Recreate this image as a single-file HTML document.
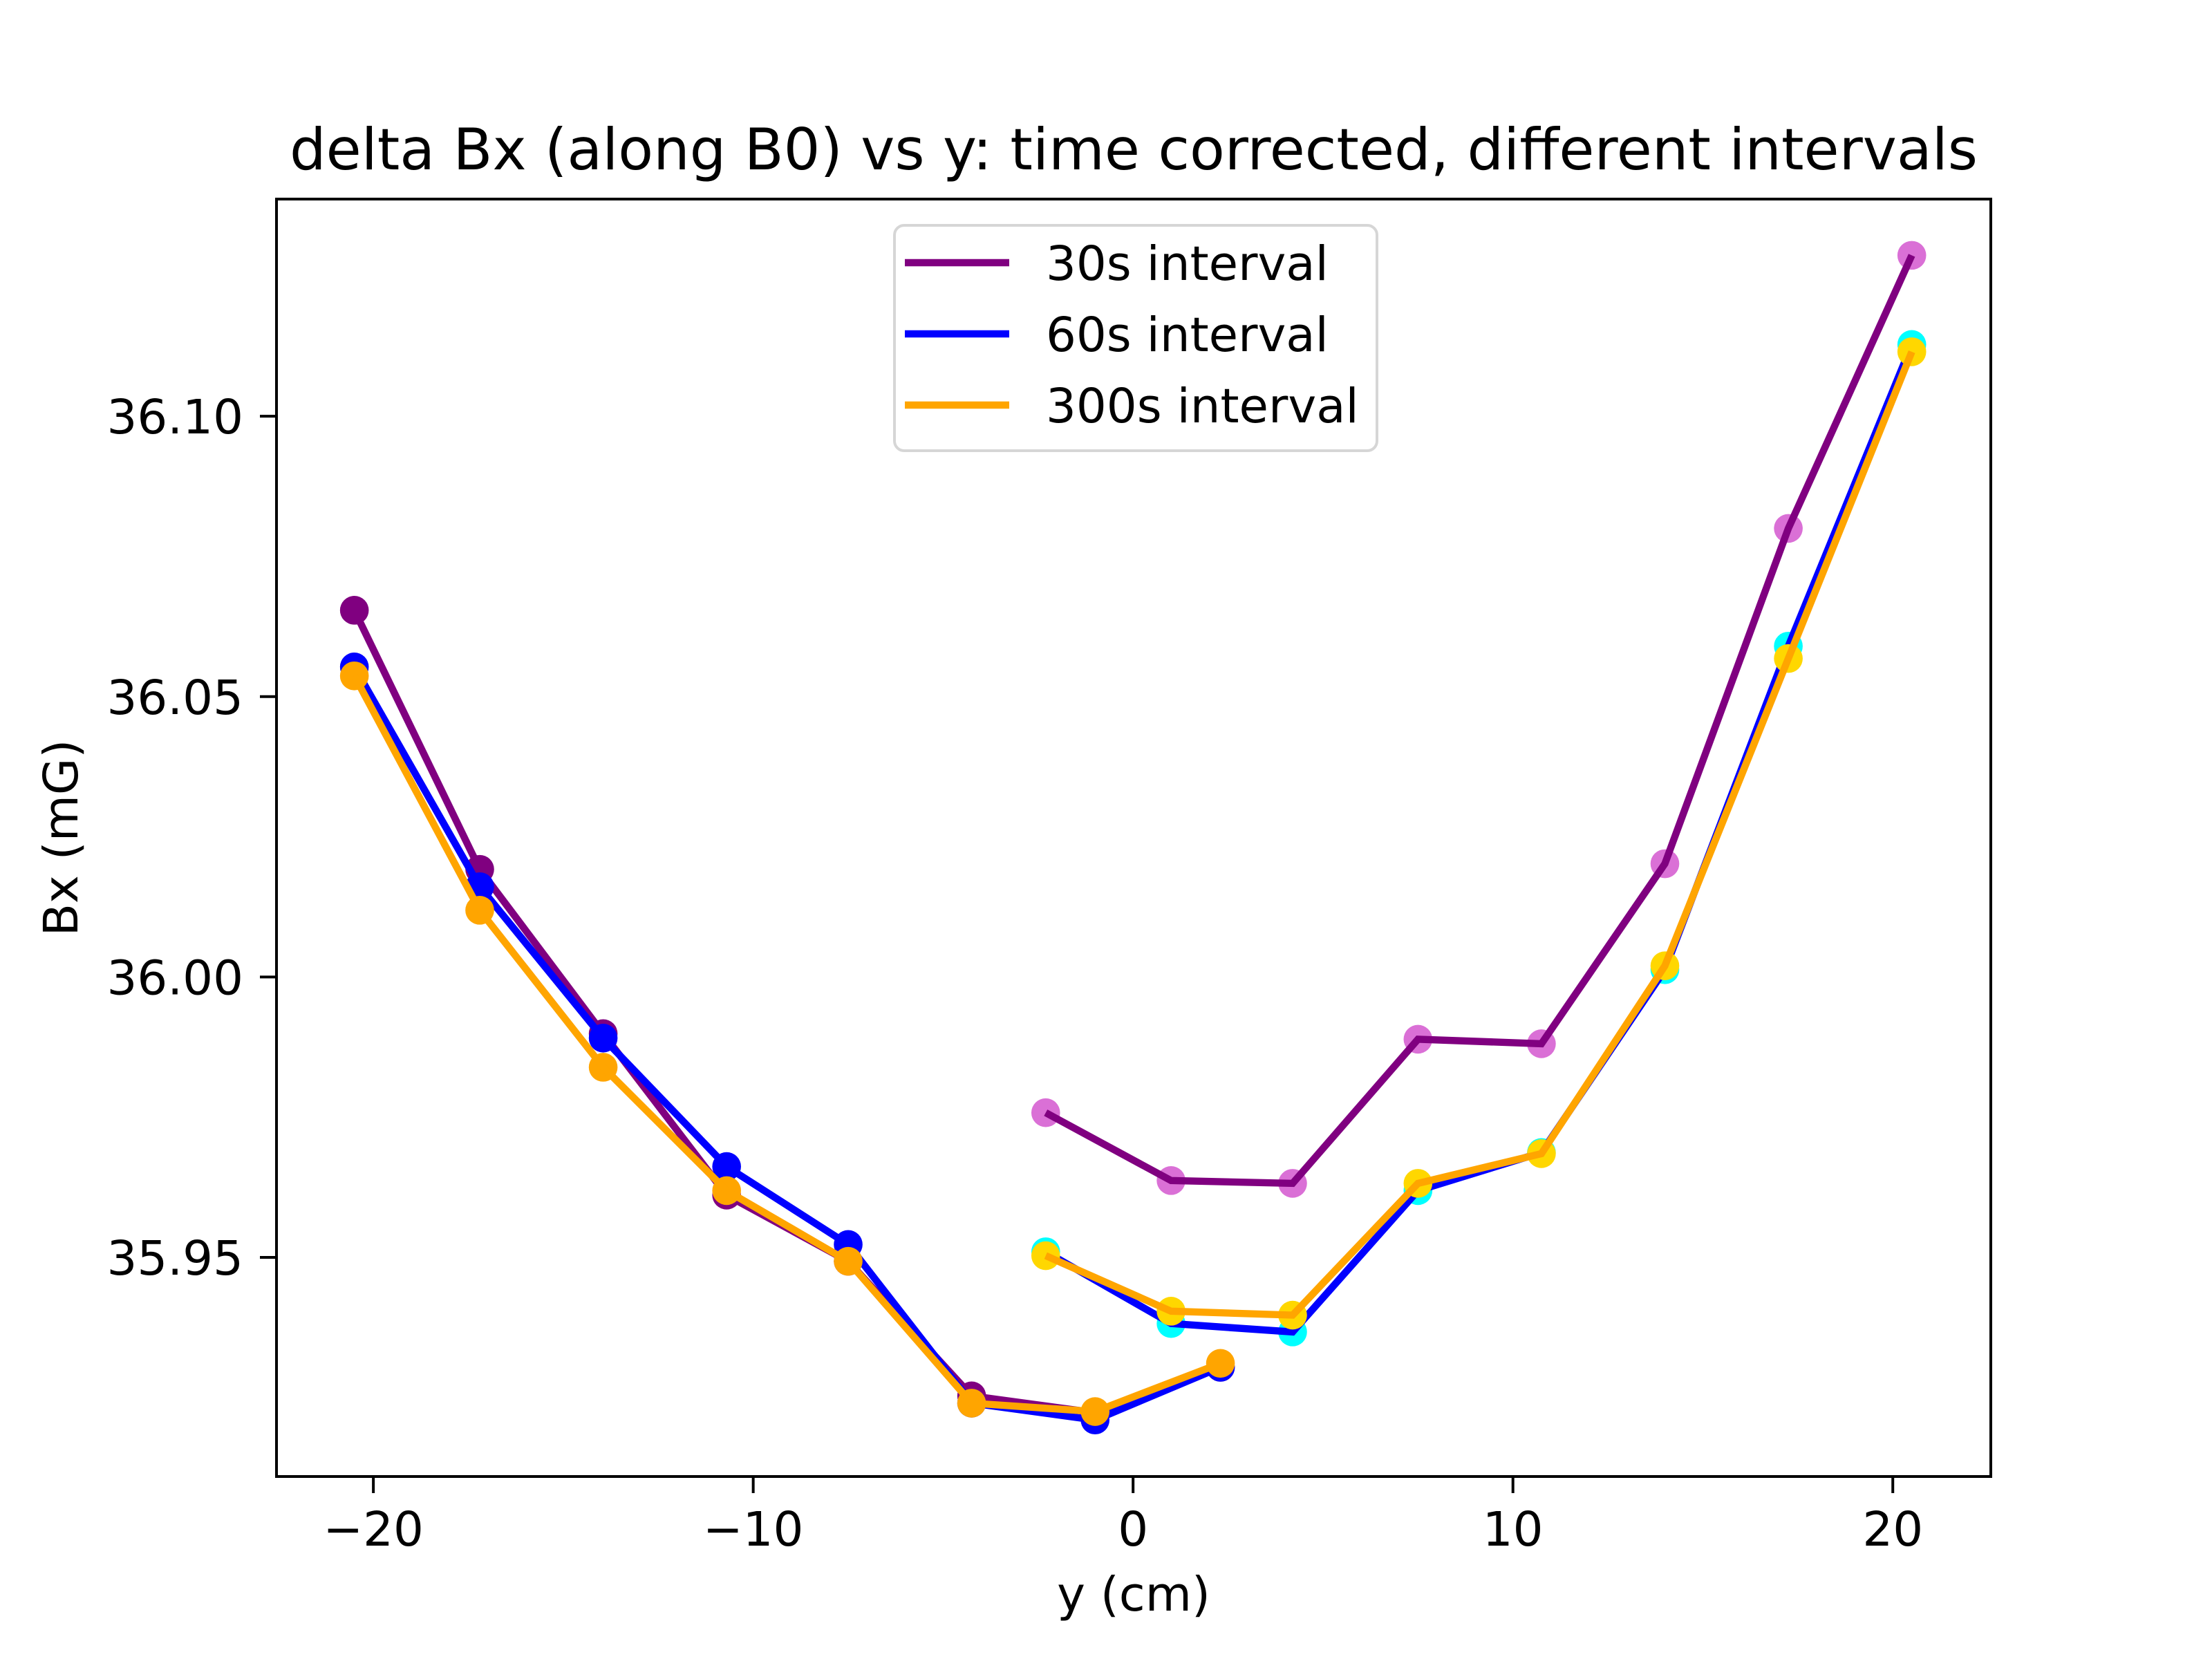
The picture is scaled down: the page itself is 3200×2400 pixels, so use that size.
<!DOCTYPE html>
<html><head><meta charset="utf-8"><style>
html,body{margin:0;padding:0;background:#fff}
svg{display:block}
text{font-family:"DejaVu Sans","Liberation Sans",sans-serif;fill:#000}
</style></head><body>
<svg id="chart" width="3200" height="2400" viewBox="0 0 3200 2400" xmlns="http://www.w3.org/2000/svg">
<rect x="0" y="0" width="3200" height="2400" fill="#fff"/>
<text x="1640" y="245" font-size="83" text-anchor="middle">delta Bx (along B0) vs y: time corrected, different intervals</text>
<g id="ticks"></g>
<g id="plot"></g>
<rect x="400" y="288" width="2480" height="1848" fill="none" stroke="#000" stroke-width="4"/>
<text x="1640" y="2330" font-size="69" text-anchor="middle">y (cm)</text>
<text x="112" y="1212" font-size="69" text-anchor="middle" transform="rotate(-90 112 1212)">Bx (mG)</text>
<g>
<rect x="1294" y="326" width="698" height="326" rx="14" fill="#fff" fill-opacity="0.8" stroke="#d6d6d6" stroke-width="4"/>
<g><line x1="1309" y1="380" x2="1460" y2="380" stroke="#800080" stroke-width="10.4"/><text x="1513" y="405" font-size="69">30s interval</text></g>
<g><line x1="1309" y1="483" x2="1460" y2="483" stroke="#0000ff" stroke-width="10.4"/><text x="1513" y="508" font-size="69">60s interval</text></g>
<g><line x1="1309" y1="586" x2="1460" y2="586" stroke="#ffa500" stroke-width="10.4"/><text x="1513" y="611" font-size="69">300s interval</text></g>
</g>
</svg>
<script>
const xLeft = [-20.5,-17.2,-13.95,-10.7,-7.5,-4.25,-1.0,2.3];
const xRight = [-2.3,1.0,4.2,7.5,10.75,14.0,17.25,20.5];
const s30Left = [36.0654,36.0192,35.9899,35.9611,35.9493,35.9253,35.9223,35.9304];
const s60Left = [36.0553,36.0161,35.9891,35.9662,35.9523,35.9240,35.9210,35.9304];
const s300Left = [36.0537,36.0119,35.9839,35.9619,35.9493,35.9240,35.9225,35.9311];
const s30Right = [35.9758,35.9637,35.9632,35.9889,35.9881,36.0202,36.0800,36.1287];
const s60Right = [35.9510,35.9382,35.9367,35.9619,35.9687,36.0013,36.0590,36.1128];
const s300Right = [35.9503,35.9404,35.9397,35.9632,35.9685,36.0020,36.0568,36.1115];
const xTicks = [-20,-10,0,10,20];
const xTickLabels = ["\u221220","\u221210","0","10","20"];
const yTicks = [35.95,36.00,36.05,36.10];
const yTickLabels = ["35.95","36.00","36.05","36.10"];

const X0=400,X1=2880,Y0=288,Y1=2136;
const xMin=-22.55,xMax=22.58,yMin=35.91092,yMax=36.13873;
function sx(v){return X0+(v-xMin)/(xMax-xMin)*(X1-X0);}
function sy(v){return Y1-(v-yMin)/(yMax-yMin)*(Y1-Y0);}
const NS="http://www.w3.org/2000/svg";
const ticks=document.getElementById('ticks');
const plot=document.getElementById('plot');
function mk(tag,attrs,parent){const e=document.createElementNS(NS,tag);for(const k in attrs)e.setAttribute(k,attrs[k]);parent.appendChild(e);return e;}

xTicks.forEach((t,i)=>{
  const l=mk('line',{x1:sx(t),x2:sx(t),y1:Y1,y2:Y1+24,stroke:'#000','stroke-width':4},ticks);
  
  
  const tx=mk('text',{x:sx(t),y:Y1+48+52,'font-size':69,'text-anchor':'middle'},ticks);
  tx.textContent=xTickLabels[i];
  
  
});
yTicks.forEach((t,i)=>{
  const l=mk('line',{x1:X0-24,x2:X0,y1:sy(t),y2:sy(t),stroke:'#000','stroke-width':4},ticks);
  
  
  const tx=mk('text',{x:X0-48,y:sy(t)+25,'font-size':69,'text-anchor':'end'},ticks);
  tx.textContent=yTickLabels[i];
  
  
});

function series(xs,ys,lineColor,markColor,width,name){
  const g=mk('g',{},plot);
  
  
  xs.forEach((x,i)=>{
    const c=mk('circle',{cx:sx(x),cy:sy(ys[i]),r:20.8,fill:markColor},g);
    
    
  });
  const p=mk('polyline',{points:xs.map((x,i)=>sx(x)+','+sy(ys[i])).join(' '),fill:'none',stroke:lineColor,'stroke-width':width,'stroke-linejoin':'miter'},g);
  
  
}
series(xLeft,s30Left,'#800080','#800080',10.4,'series-30s-left');
series(xLeft,s60Left,'#0000ff','#0000ff',10.4,'series-60s-left');
series(xLeft,s300Left,'#ffa500','#ffa500',10.4,'series-300s-left');
series(xRight,s30Right,'#800080','#da70d6',10.4,'series-30s-right');
series(xRight,s60Right,'#0000ff','#00ffff',10.4,'series-60s-right');
series(xRight,s300Right,'#ffa500','#ffd700',10.4,'series-300s-right');
</script>
</body></html>
